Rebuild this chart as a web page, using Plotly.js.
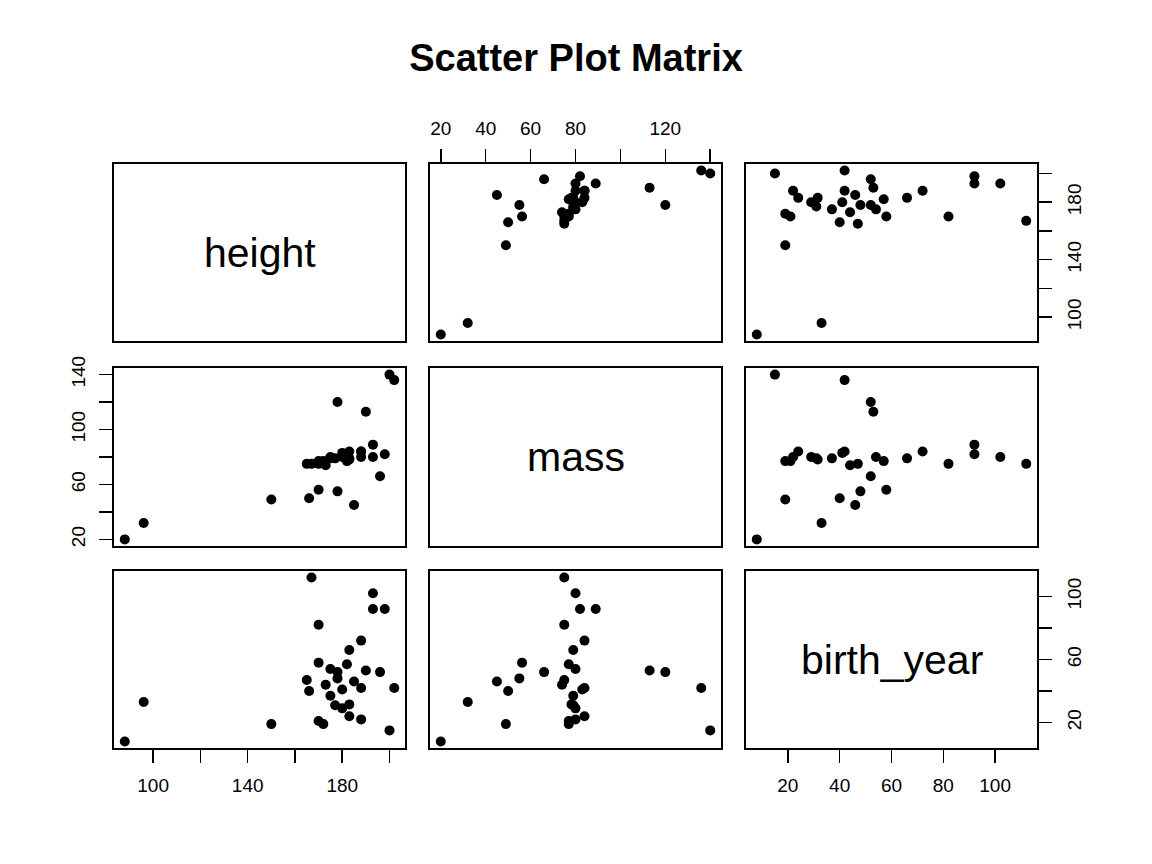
<!DOCTYPE html>
<html>
<head>
<meta charset="utf-8">
<script src="https://cdn.plot.ly/plotly-3.0.1.min.js"></script>
<style>html,body{margin:0;padding:0;background:#fff;}#chart{width:1152px;height:864px;}</style>
</head>
<body>
<div id="chart"></div>
<script>
// starwars characters with complete height, mass, birth_year (outliers removed)
const height = [172,167,96,202,150,178,165,183,182,188,180,173,170,170,183,200,190,177,175,180,88,193,185,196,175,178,188,198,188,170,166,193,183];
const mass = [77,75,32,136,49,120,75,84,77,84,80,74,77,75,78.2,140,113,79,79,83,20,89,45,66,80,55,84,82,80,56.2,50,80,79];
const birth_year = [19,112,33,41.9,19,52,47,24,57,41.9,29,44,21,82,31.5,15,53,31,37,41,8,92,46,52,54,48,72,92,22,58,40,102,66];

const varNames = ["height","mass","birth_year"];
const varData = [height, mass, birth_year];
const varRanges = [[83.44,206.56],[15.2,144.8],[3.84,116.16]];
const tickVals = [[100,120,140,160,180,200],[20,40,60,80,100,120,140],[20,40,60,80,100]];
const tickTextsX = [["100","","140","","180",""],["20","40","60","80","","120",""],["20","40","60","80","100"]];
const tickTextsY = [["100","","140","","180",""],["20","","60","","100","","140"],["20","","60","","100"]];
const titleText = "Scatter Plot Matrix";

const W = 1152, H = 864;
const colPx = [[114,405],[430,721],[746,1037]];
const rowPx = [[164,341],[368,546],[571,748]];

const traces = [];
const layout = {
  width: W, height: H,
  margin: {l:0, r:0, t:0, b:0, pad:0},
  paper_bgcolor: "#fff", plot_bgcolor: "#fff",
  showlegend: false,
  font: {family: "Liberation Sans, Arial, sans-serif", color: "#000", size: 19},
  title: {text: "<b>" + titleText + "</b>", x: 0.5, xanchor: "center", xref: "paper", yref: "container", y: 1 - 58/H, yanchor: "middle", font: {size: 38, color: "#000", family: "Liberation Sans, Arial, sans-serif"}},
  annotations: []
};

function baseAxis(){
  return {showgrid:false, zeroline:false, showline:true, mirror:true, linecolor:"#000", linewidth:2,
          ticks:"", showticklabels:false, automargin:false, fixedrange:true};
}

for (let r = 0; r < 3; r++) {
  for (let c = 0; c < 3; c++) {
    const k = r*3 + c + 1;
    const xa = baseAxis(), ya = baseAxis();
    xa.domain = [colPx[c][0]/W, colPx[c][1]/W];
    ya.domain = [1 - rowPx[r][1]/H, 1 - rowPx[r][0]/H];
    xa.anchor = "y" + k; ya.anchor = "x" + k;
    xa.range = varRanges[c]; ya.range = varRanges[r];
    if (r === c) {
      layout.annotations.push({text: varNames[r], xref: "paper", yref: "paper",
        x: (xa.domain[0] + xa.domain[1]) / 2, y: (ya.domain[0] + ya.domain[1]) / 2,
        showarrow:false, xanchor:"center", yanchor:"middle", font:{size:41, color:"#000"}});
      traces.push({type:"scatter", x:[], y:[], xaxis:"x"+k, yaxis:"y"+k, mode:"markers"});
    } else {
      traces.push({type:"scatter", mode:"markers", x: varData[c], y: varData[r],
        xaxis:"x"+k, yaxis:"y"+k, marker:{color:"#000", size:10}, hoverinfo:"none"});
    }
    if (r === 0 && c % 2 === 1) {
      Object.assign(xa, {side:"top", ticks:"outside", ticklen:13, tickwidth:1.5, tickcolor:"#000",
        showticklabels:true, tickmode:"array", tickvals:tickVals[c], ticktext:tickTextsX[c], ticklabelstandoff:6});
    }
    if (r === 2 && c % 2 === 0) {
      Object.assign(xa, {side:"bottom", ticks:"outside", ticklen:13, tickwidth:1.5, tickcolor:"#000",
        showticklabels:true, tickmode:"array", tickvals:tickVals[c], ticktext:tickTextsX[c], ticklabelstandoff:6});
    }
    if (c === 0 && r % 2 === 1) {
      Object.assign(ya, {side:"left", ticks:"outside", ticklen:13, tickwidth:1.5, tickcolor:"#000",
        showticklabels:true, tickmode:"array", tickvals:tickVals[r], ticktext:tickTextsY[r], tickangle:-90, ticklabelstandoff:6});
    }
    if (c === 2 && r % 2 === 0) {
      Object.assign(ya, {side:"right", ticks:"outside", ticklen:13, tickwidth:1.5, tickcolor:"#000",
        showticklabels:true, tickmode:"array", tickvals:tickVals[r], ticktext:tickTextsY[r], tickangle:-90, ticklabelstandoff:6});
    }
    layout["xaxis" + k] = xa;
    layout["yaxis" + k] = ya;
  }
}

Plotly.newPlot("chart", traces, layout, {displayModeBar:false, staticPlot:true});
</script>
</body>
</html>
